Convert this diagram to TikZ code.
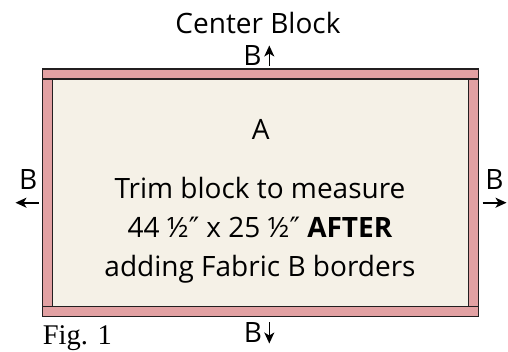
\documentclass[tikz,border=0pt]{standalone}
\usepackage{fontspec}
\setmainfont{Open Sans}
\newfontfamily\figfont{Liberation Serif}
\newfontfamily\symfont{DejaVu Sans}
\newcommand{\inchmark}{{\symfont ″}}
\usetikzlibrary{arrows.meta}
\definecolor{pinkB}{RGB}{226,161,163}
\definecolor{beigeA}{RGB}{245,241,231}
\definecolor{edge}{RGB}{35,31,32}
\tikzset{
  piece/.style={draw=edge, line width=1.3pt},
  lbl/.style={anchor=base, inner sep=0pt, font=\fontsize{28}{28}\selectfont},
  arr/.style={draw=black, line width=1.6pt, -{Stealth[length=11pt,width=10pt,inset=3pt]}},
}
\begin{document}
\begin{tikzpicture}[x=1pt,y=1pt]
\useasboundingbox (0,0) rectangle (508,-351);
% borders
\draw[piece, fill=pinkB] (42.7,-69) rectangle (478.7,-79);
\draw[piece, fill=pinkB] (42.7,-306.7) rectangle (478.7,-316.3);
\draw[piece, fill=pinkB] (42.7,-79) rectangle (52.7,-306.7);
\draw[piece, fill=pinkB] (468.7,-79) rectangle (478.7,-306.7);
\draw[piece, fill=beigeA] (52.7,-79) rectangle (468.7,-306.7);
% texts
\node[lbl] (title) at (258,-33) {Center Block};
\node[lbl] (a) at (260.8,-139) {A};
\node[lbl] (l1) at (260,-198.5) {Trim block to measure};
\node[lbl] (l2) at (260,-237) {44 ½\inchmark{} x 25 ½\inchmark{} \textbf{AFTER}};
\node[lbl] (l3) at (260,-276.5) {adding Fabric B borders};
\node[lbl] (bt) at (252.5,-65) {B};
\node[lbl] (bb) at (253,-342.7) {B};
\node[lbl] (bl) at (28.3,-189) {B};
\node[lbl] (br) at (494.5,-189) {B};
\node[anchor=base west, inner sep=0pt, font=\figfont\fontsize{28.5}{28.5}\selectfont] (fig) at (42.7,-344) {Fig. 1};
% arrows
\coordinate (t0) at (269.3,-65.5); \coordinate (t1) at (269.3,-45.5);
\coordinate (b0) at (269.3,-322); \coordinate (b1) at (269.3,-343.5);
\coordinate (l0) at (38.5,-202.7); \coordinate (l1e) at (15.5,-202.7);
\coordinate (r0) at (482.7,-202.7); \coordinate (r1) at (506.5,-202.7);
\draw[arr] (t0) -- (t1);
\draw[arr] (b0) -- (b1);
\draw[arr] (l0) -- (l1e);
\draw[arr] (r0) -- (r1);
\end{tikzpicture}
\end{document}
